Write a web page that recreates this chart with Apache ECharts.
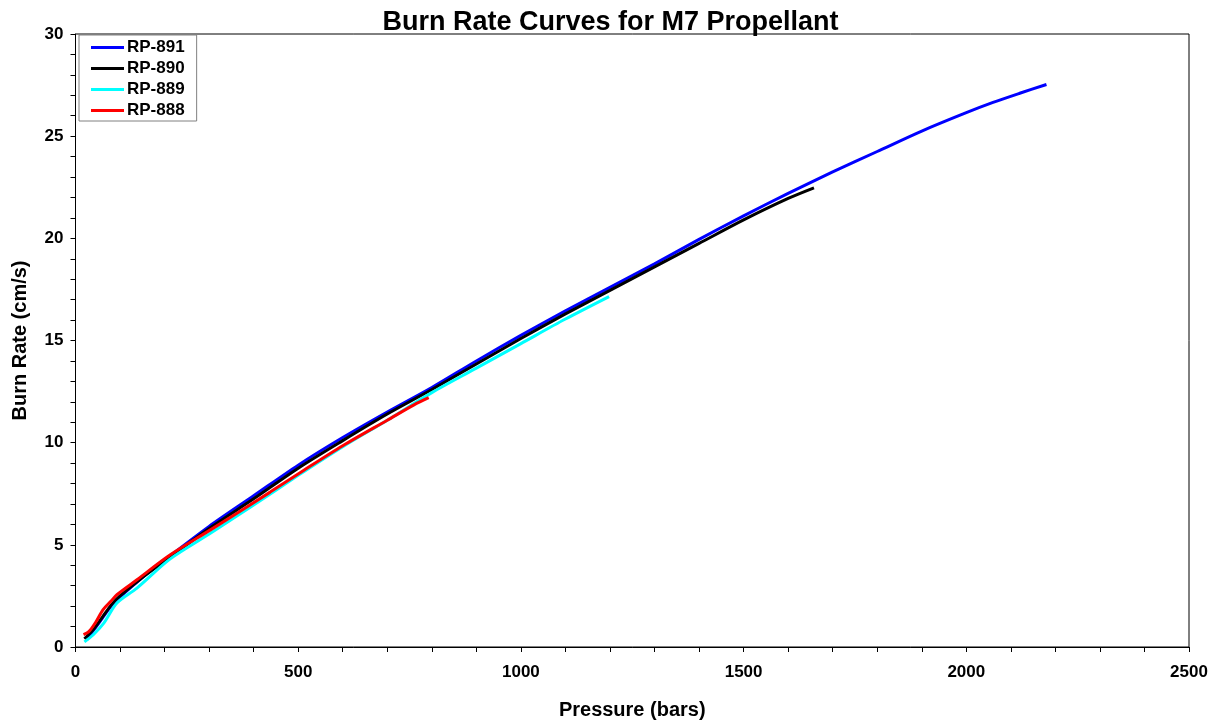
<!DOCTYPE html>
<html>
<head>
<meta charset="utf-8">
<script src="https://cdn.jsdelivr.net/npm/echarts@6/dist/echarts.min.js"></script>
<style>
html,body{margin:0;padding:0;background:#fff;}
#chart{width:1221px;height:725px;}
</style>
</head>
<body>
<div id="chart"></div>
<script>
const seriesNames = ['RP-891', 'RP-890', 'RP-889', 'RP-888'];
const seriesColors = ['#0000FF', '#000000', '#00FFFF', '#FF0000'];

// [pressure (bars), burn rate (cm/s)]
const rp891 = [[25,0.35],[40,0.8],[60,1.4],[80,2.0],[100,2.45],[150,3.4],[200,4.25],[300,5.9],[400,7.4],[500,8.9],[600,10.25],[700,11.5],[800,12.7],[900,14.0],[1000,15.25],[1100,16.45],[1200,17.6],[1300,18.75],[1400,19.95],[1500,21.1],[1600,22.2],[1700,23.25],[1800,24.25],[1900,25.25],[2000,26.15],[2060,26.65],[2120,27.1],[2180,27.53]];
const rp890 = [[20,0.4],[40,0.85],[60,1.45],[80,2.05],[100,2.5],[150,3.4],[200,4.2],[300,5.8],[400,7.25],[500,8.75],[600,10.1],[700,11.4],[800,12.6],[900,13.85],[1000,15.1],[1100,16.3],[1200,17.45],[1300,18.6],[1400,19.75],[1500,20.9],[1600,21.95],[1658,22.47]];
const rp889 = [[20,0.25],[40,0.6],[64,1.18],[93,2.15],[138,2.88],[212,4.3],[302,5.55],[400,6.95],[500,8.4],[600,9.8],[700,11.1],[800,12.45],[900,13.65],[1000,14.85],[1100,16.05],[1198,17.15]];
const rp888 = [[18,0.6],[30,0.75],[45,1.2],[62,1.83],[80,2.25],[93,2.56],[138,3.29],[212,4.5],[302,5.72],[437,7.58],[512,8.64],[600,9.85],[700,11.1],[760,11.85],[793,12.2]];
const seriesData = [rp891, rp890, rp889, rp888];

const xTicks = { min: 0, max: 2500, interval: 500 };
const yTicks = { min: 0, max: 30, interval: 5 };

const font = '"Liberation Sans", Arial, sans-serif';
const chart = echarts.init(document.getElementById('chart'));
chart.setOption({
  animation: false,
  backgroundColor: '#fff',
  title: {
    text: 'Burn Rate Curves for M7 Propellant',
    left: 'center',
    top: 4,
    textStyle: { fontFamily: font, fontWeight: 'bold', fontSize: 27, color: '#000' }
  },
  legend: {
    orient: 'vertical',
    left: 79,
    top: 35,
    icon: 'rect',
    itemWidth: 33,
    itemHeight: 3,
    itemGap: 4,
    padding: [4, 12, 2, 12],
    borderColor: '#808080',
    borderWidth: 1,
    textStyle: { fontFamily: font, fontWeight: 'bold', fontSize: 17, lineHeight: 17, color: '#000', padding: [0,0,0,-2] },
    data: seriesNames
  },
  grid: {
    left: 75.5, right: 32, top: 34, bottom: 71,
    show: true, borderColor: '#000', borderWidth: 1, containLabel: false
  },
  xAxis: {
    type: 'value',
    min: xTicks.min, max: xTicks.max, interval: xTicks.interval,
    name: 'Pressure (bars)',
    nameLocation: 'middle',
    nameGap: 53,
    nameTextStyle: { fontFamily: font, fontWeight: 'bold', fontSize: 20, color: '#000' },
    axisLine: { show: true, lineStyle: { color: '#000', width: 1 } },
    axisTick: { show: true, length: 5, lineStyle: { color: '#000' } },
    minorTick: { show: true, splitNumber: 5, length: 5, lineStyle: { color: '#000' } },
    splitLine: { show: false },
    axisLabel: { fontFamily: font, fontWeight: 'bold', fontSize: 17, color: '#000', margin: 17, formatter: v => String(v) }
  },
  yAxis: {
    type: 'value',
    min: yTicks.min, max: yTicks.max, interval: yTicks.interval,
    name: 'Burn Rate (cm/s)',
    nameLocation: 'middle',
    nameGap: 45,
    nameTextStyle: { fontFamily: font, fontWeight: 'bold', fontSize: 20, color: '#000' },
    axisLine: { show: true, lineStyle: { color: '#000', width: 1 } },
    axisTick: { show: true, length: 5, lineStyle: { color: '#000' } },
    minorTick: { show: true, splitNumber: 5, length: 5, lineStyle: { color: '#000' } },
    splitLine: { show: false },
    axisLabel: { fontFamily: font, fontWeight: 'bold', fontSize: 17, color: '#000', margin: 12, formatter: v => String(v) }
  },
  series: seriesNames.map((name, i) => ({
    name: name,
    type: 'line',
    data: seriesData[i],
    symbol: 'none',
    smooth: 0.3,
    color: seriesColors[i],
    lineStyle: { color: seriesColors[i], width: 3 },
    z: 2 + i
  }))
});
</script>
</body>
</html>
